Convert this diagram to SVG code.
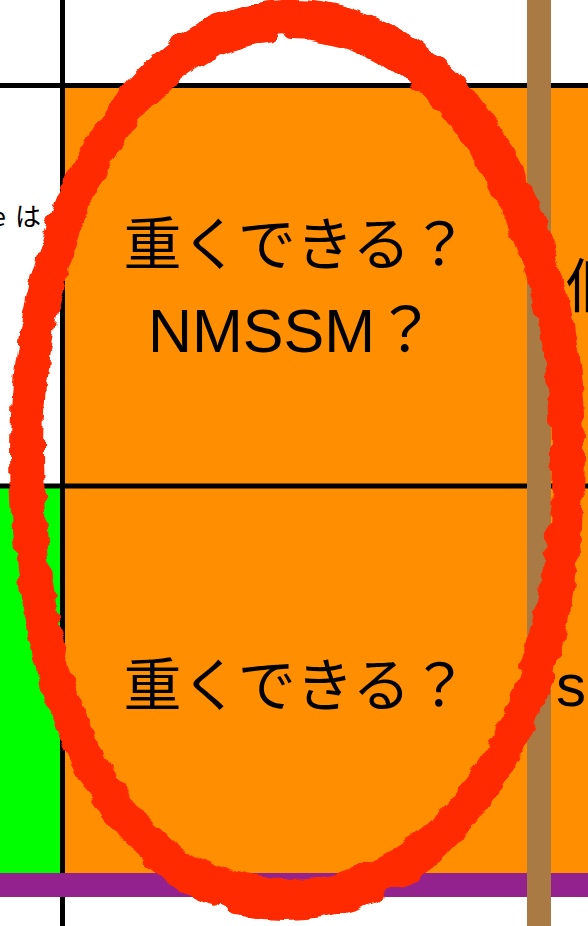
<svg xmlns="http://www.w3.org/2000/svg" width="588" height="926" viewBox="0 0 588 926">
<defs>
<style>
.t{font-family:"Noto Sans CJK JP","Noto Sans",sans-serif;fill:#000}
.lat{font-family:"Liberation Sans","Noto Sans CJK JP",sans-serif;fill:#000}
.big{font-size:58px}
.line{fill:#000}
.brush{fill:none;stroke:#FF2A00;stroke-linecap:round}
</style>
<filter id="rough" x="-10%" y="-10%" width="120%" height="120%">
<feTurbulence type="fractalNoise" baseFrequency="0.035 0.07" numOctaves="2" seed="4" result="n"/>
<feDisplacementMap in="SourceGraphic" in2="n" scale="12" xChannelSelector="R" yChannelSelector="G"/>
</filter>
<path id="egg" d="M292,16 C445,16 568,215 568,450 C568,720 455,896 284,896 C128,896 27,722 27,452 C27,212 140,16 292,16 Z"/>
</defs>
<rect width="588" height="926" fill="#fff"/>
<g id="cells">
<rect id="orange" x="65" y="88" width="523" height="785" fill="#FF8E00"/>
<rect id="green" x="0" y="488" width="60" height="385" fill="#00FF00"/>
</g>
<g id="connectors">
<rect class="line" x="0" y="83" width="588" height="5"/>
<rect class="line" x="0" y="483.5" width="588" height="5"/>
<rect class="line" x="60" y="0" width="5" height="926"/>
<rect id="purple" x="0" y="873" width="588" height="24" fill="#93228F"/>
<rect id="brown" x="527" y="0" width="24" height="926" fill="#A97A44"/>
</g>
<g id="labels">
<text class="t" x="6" y="226" font-size="26" text-anchor="end">e</text>
<text class="t" x="15" y="226" font-size="26">は</text>
<text class="t big" x="296" y="265" text-anchor="middle">重くできる？</text>
<text class="lat" x="292" y="352" font-size="61" text-anchor="middle">NMSSM？</text>
<text class="t big" x="296" y="706" text-anchor="middle">重くできる？</text>
<text class="t big" x="566" y="307">個</text>
<text class="lat" x="556" y="706" font-size="60">s</text>
</g>
<g id="ellipse" filter="url(#rough)">
<use href="#egg" class="brush" stroke-width="34"/>
<use href="#egg" class="brush" stroke-width="12" transform="translate(-9,6) rotate(-1 292 456)"/>
<use href="#egg" class="brush" stroke-width="12" transform="translate(9,-6) rotate(1.2 292 456)"/>
<use href="#egg" class="brush" stroke-width="16" transform="translate(0,16)" stroke-dasharray="140 25 70 30"/>
</g>
</svg>
